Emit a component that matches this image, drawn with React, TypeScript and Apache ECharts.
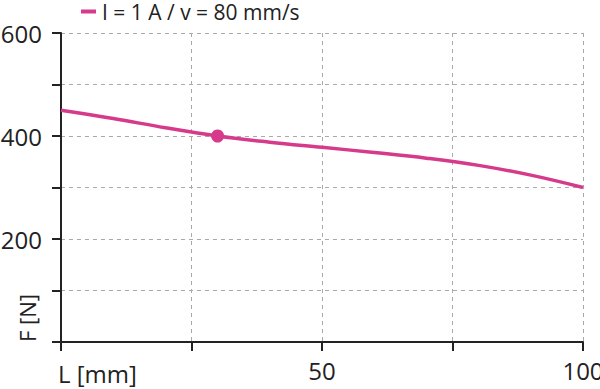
import React, { useEffect, useRef } from "react";
import * as echarts from "echarts";

const seriesName = "I = 1 A / v = 80 mm/s";
const strokeX = [0, 10, 20, 30, 40, 50, 60, 70, 80, 90, 100];
const forceN = [450, 434, 416, 400, 388, 378, 368, 357, 343, 324, 300];
const markerPoint = [[30, 400]];
const yLabelsShown = [200, 400, 600];
const xLabelsShown = [50, 100];
const xAxisTitle = "L [mm]";
const yAxisTitle = "F [N]";

const FONT = "'Open Sans', 'Noto Sans', sans-serif";
const PINK = "#d63a8b";
const INK = "#222";
const FS = 24;

export default function App() {
  const ref = useRef<HTMLDivElement>(null);
  useEffect(() => {
    if (!ref.current) return;
    const chart = echarts.init(ref.current, null, { renderer: "svg" });
    chart.setOption({
      animation: false,
      textStyle: { fontFamily: FONT },
      grid: { left: 61, right: 17, top: 33, bottom: 47, outerBoundsMode: "none", containLabel: false },
      legend: {
        data: [seriesName],
        left: 81,
        top: 1,
        padding: 0,
        icon: "rect",
        itemWidth: 15,
        itemHeight: 4,
        itemGap: 6,
        textStyle: { fontFamily: FONT, fontSize: 21, lineHeight: 21, color: INK, padding: [0, 0, 0, 1] },
      },
      xAxis: {
        type: "value",
        min: 0,
        max: 100,
        interval: 25,
        axisLine: { show: true, onZero: false, lineStyle: { color: INK, width: 2 } },
        axisTick: { show: true, length: 9, lineStyle: { color: INK, width: 2 } },
        axisLabel: {
          margin: 16,
          fontSize: FS,
          color: INK,
          fontFamily: FONT,
          formatter: (v: number) => (xLabelsShown.includes(v) ? String(v) : ""),
        },
        splitLine: { show: true, lineStyle: { color: "#aaa", type: [4, 4], width: 1 } },
      },
      yAxis: {
        type: "value",
        min: 0,
        max: 600,
        interval: 100,
        axisLine: { show: true, lineStyle: { color: INK, width: 2 } },
        axisTick: { show: true, length: 9, lineStyle: { color: INK, width: 2 } },
        axisLabel: {
          margin: 19,
          fontSize: FS,
          color: INK,
          fontFamily: FONT,
          formatter: (v: number) => (yLabelsShown.includes(v) ? String(v) : ""),
        },
        splitLine: { show: true, lineStyle: { color: "#aaa", type: [4, 4], width: 1 } },
      },
      graphic: [
        {
          type: "text",
          x: 58,
          y: 373,
          style: {
            text: xAxisTitle,
            fontSize: FS,
            fill: INK,
            fontFamily: FONT,
            align: "left",
            verticalAlign: "middle",
          },
        },
        {
          type: "text",
          x: 27,
          y: 318,
          rotation: Math.PI / 2,
          style: {
            text: yAxisTitle,
            fontSize: 22,
            fill: INK,
            fontFamily: FONT,
            align: "center",
            verticalAlign: "middle",
          },
        },
      ],
      series: [
        {
          name: seriesName,
          type: "line",
          smooth: 0.4,
          showSymbol: false,
          data: strokeX.map((x, i) => [x, forceN[i]]),
          lineStyle: { color: PINK, width: 3.5 },
          itemStyle: { color: PINK },
        },
        {
          name: "marker",
          type: "scatter",
          data: markerPoint,
          symbolSize: 13,
          itemStyle: { color: PINK, opacity: 1 },
        },
      ],
    });
    return () => chart.dispose();
  }, []);
  return <div ref={ref} style={{ width: 600, height: 389, position: "absolute", left: 0, top: 0 }} />;
}
